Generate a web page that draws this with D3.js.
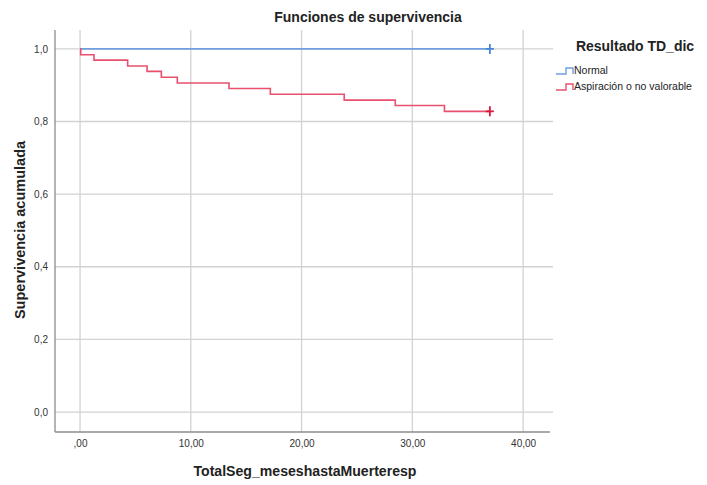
<!DOCTYPE html>
<html>
<head>
<meta charset="utf-8">
<script src="https://cdn.jsdelivr.net/npm/d3@7"></script>
<style>
  html, body { margin: 0; padding: 0; background: #fff; }
  svg { display: block; font-family: "Liberation Sans", Arial, sans-serif; }
</style>
</head>
<body>
<svg id="chart" width="707" height="485"></svg>
<script>
// Kaplan-Meier survival curves by group
const groups = ["Normal", "Aspiración o no valorable"];
const groupColors = ["#6f9fe0", "#e8506e"];
const censorColors = ["#4a86d8", "#d8183c"];

// Event times (months) and cumulative survival after each event
const normalTimes = [0];
const normalSurv = [1.0];
const aspTimes = [0, 0.06, 1.26, 4.3, 6.05, 7.34, 8.78, 13.45, 17.18, 23.85, 28.46, 32.9];
const aspSurv = [1.0, 0.984, 0.969, 0.953, 0.938, 0.922, 0.906, 0.891, 0.875, 0.859, 0.844, 0.828];
// Last follow-up (censored) time for each group
const censorTimes = [37.0, 37.0];

const xTicks = [0, 10, 20, 30, 40];
const xTickLabels = [",00", "10,00", "20,00", "30,00", "40,00"];
const yTicks = [0, 0.2, 0.4, 0.6, 0.8, 1.0];
const yTickLabels = ["0,0", "0,2", "0,4", "0,6", "0,8", "1,0"];

const svg = d3.select("#chart");
const plot = { left: 55, right: 553, top: 30, bottom: 432 };

const x = d3.scaleLinear().domain([-2.26, 42.7]).range([plot.left, plot.right]);
const y = d3.scaleLinear().domain([-0.055, 1.052]).range([plot.bottom, plot.top]);

// Grid lines
svg.append("g").selectAll("line.v").data(xTicks).join("line")
  .attr("x1", d => x(d)).attr("x2", d => x(d))
  .attr("y1", plot.top).attr("y2", plot.bottom)
  .attr("stroke", "#d2d2d2").attr("stroke-width", 1.3);
svg.append("g").selectAll("line.h").data(yTicks).join("line")
  .attr("x1", plot.left).attr("x2", plot.right)
  .attr("y1", d => y(d)).attr("y2", d => y(d))
  .attr("stroke", "#d2d2d2").attr("stroke-width", 1.3);

// Axes
const xAxis = d3.axisBottom(x).tickValues(xTicks)
  .tickFormat((d, i) => xTickLabels[i]).tickSize(0).tickPadding(8);
const gx = svg.append("g").attr("transform", `translate(0,${plot.bottom})`).call(xAxis);
gx.select(".domain").attr("d", `M${plot.left},0H${plot.right - 3}`).attr("stroke", "#8c8c8c").attr("stroke-width", 1.3);
gx.selectAll("text").attr("font-size", 10).attr("fill", "#333");

const yAxis = d3.axisLeft(y).tickValues(yTicks)
  .tickFormat((d, i) => yTickLabels[i]).tickSize(0).tickPadding(7);
const gy = svg.append("g").attr("transform", `translate(${plot.left},0)`).call(yAxis);
gy.select(".domain").attr("d", `M0,${plot.top}V${plot.bottom}`).attr("stroke", "#8c8c8c").attr("stroke-width", 1.3);
gy.selectAll("text").attr("font-size", 10).attr("fill", "#333");

// Survival step curves
const series = [
  { times: normalTimes, surv: normalSurv, end: censorTimes[0] },
  { times: aspTimes, surv: aspSurv, end: censorTimes[1] }
];
const line = d3.line().x(d => x(d[0])).y(d => y(d[1])).curve(d3.curveStepAfter);

series.forEach((s, i) => {
  const pts = s.times.map((t, j) => [t, s.surv[j]]);
  pts.push([s.end, s.surv[s.surv.length - 1]]);
  svg.append("path").datum(pts)
    .attr("d", line)
    .attr("fill", "none")
    .attr("stroke", groupColors[i])
    .attr("stroke-width", 1.6);
  // censor mark
  const cx = x(s.end), cy = y(s.surv[s.surv.length - 1]);
  svg.append("path")
    .attr("d", `M${cx - 4},${cy}H${cx + 4}M${cx},${cy - 5}V${cy + 5}`)
    .attr("stroke", censorColors[i]).attr("stroke-width", 1.8).attr("fill", "none");
});

// Title and axis titles
svg.append("text").attr("x", 368).attr("y", 22).attr("text-anchor", "middle")
  .attr("font-size", 14).attr("font-weight", "bold").attr("fill", "#222")
  .text("Funciones de supervivencia");
svg.append("text").attr("x", 305).attr("y", 476).attr("text-anchor", "middle")
  .attr("font-size", 14.1).attr("font-weight", "bold").attr("fill", "#222")
  .text("TotalSeg_meseshastaMuerteresp");
svg.append("text").attr("transform", "translate(25,230) rotate(-90)").attr("text-anchor", "middle")
  .attr("font-size", 14.5).attr("font-weight", "bold").attr("fill", "#222")
  .text("Supervivencia acumulada");

// Legend
const legend = svg.append("g");
legend.append("text").attr("x", 635).attr("y", 51).attr("text-anchor", "middle")
  .attr("font-size", 14).attr("font-weight", "bold").attr("fill", "#222")
  .text("Resultado TD_dic");
groups.forEach((g, i) => {
  const ly = 70 + i * 16;
  legend.append("path")
    .attr("d", `M556,${ly + 4}H566V${ly - 2}H573V${ly + 4}`)
    .attr("fill", "none").attr("stroke", groupColors[i]).attr("stroke-width", 1.4);
  legend.append("text").attr("x", 574).attr("y", ly + 4)
    .attr("font-size", 10.5).attr("fill", "#222").text(g);
});
</script>
</body>
</html>
